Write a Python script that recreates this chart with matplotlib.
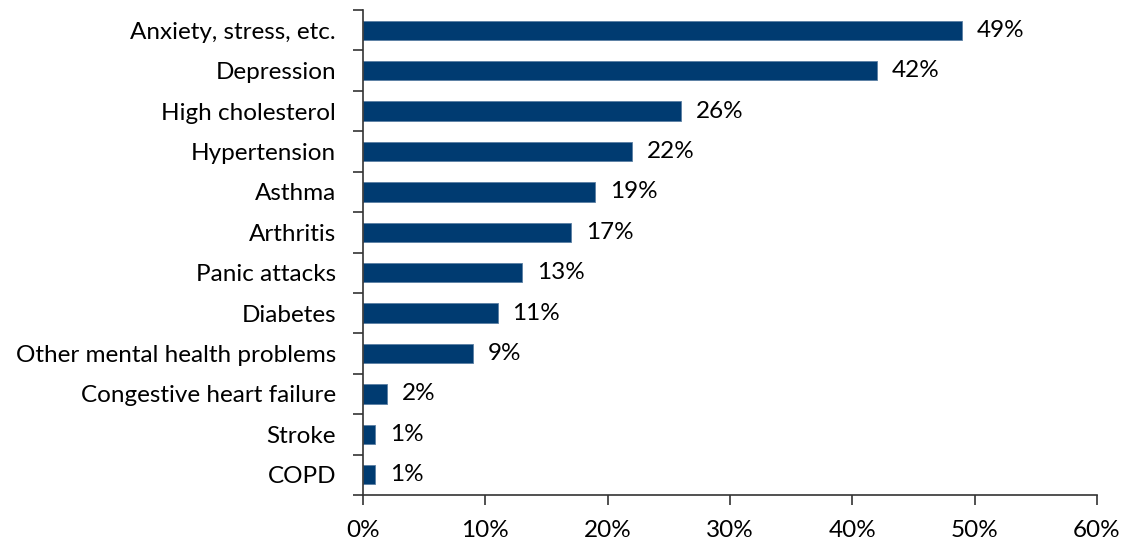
import numpy as np
import matplotlib
matplotlib.use("Agg")
import matplotlib.pyplot as plt

plt.rcParams['font.family'] = ['Lato', 'DejaVu Sans']

conditions = ["Anxiety, stress, etc.", "Depression", "High cholesterol", "Hypertension",
              "Asthma", "Arthritis", "Panic attacks", "Diabetes",
              "Other mental health problems", "Congestive heart failure", "Stroke", "COPD"]
shares = [49, 42, 26, 22, 19, 17, 13, 11, 9, 2, 1, 1]
xticks = [0, 10, 20, 30, 40, 50, 60]

fs = 17.5

fig = plt.figure(figsize=(11.23, 5.42), dpi=100)
ax = fig.add_axes([363/1123, 47/542, 734/1123, 485/542])

pos = np.arange(len(conditions))
ax.barh(pos, shares, height=0.48, color="#003b71", edgecolor="#5a7fa3", linewidth=0.6)
for p, v in zip(pos, shares):
    ax.text(v + 1.2, p, f"{v}%", va="center", ha="left", fontsize=fs, color="black")

ax.set_ylim(len(conditions) - 0.5, -0.5)
ax.set_xlim(0, 60)

# category labels at bar centres, tick marks at category boundaries
ax.set_yticks(np.arange(len(conditions) + 1) - 0.5)
ax.set_yticklabels([])
ax.tick_params(axis="y", which="major", direction="out", length=7, width=1.2, color="#333333")
ax.set_yticks(pos, minor=True)
ax.set_yticklabels(conditions, minor=True, fontsize=fs)
ax.tick_params(axis="y", which="minor", length=0, pad=19.5)

ax.set_xticks(xticks)
ax.set_xticklabels([f"{t}%" for t in xticks], fontsize=fs)
ax.tick_params(axis="x", direction="out", length=7, width=1.2, color="#333333", pad=11)

for s in ["top", "right"]:
    ax.spines[s].set_visible(False)
for s in ["left", "bottom"]:
    ax.spines[s].set_linewidth(1.2)
    ax.spines[s].set_color("#333333")

fig.savefig("out.png", dpi=100)
